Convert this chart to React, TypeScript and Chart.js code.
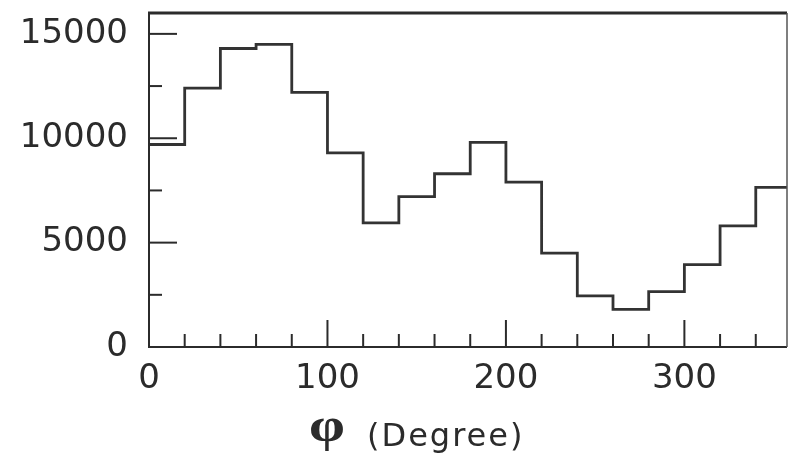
import { useEffect, useRef } from 'react';
import { Chart, registerables } from 'chart.js';

Chart.register(...registerables);

// Histogram bin edges (degrees) and counts per bin
const binEdges = [0, 20, 40, 60, 80, 100, 120, 140, 160, 180, 200, 220, 240, 260, 280, 300, 320, 340, 360];
const counts = [9700, 12400, 14300, 14500, 12200, 9300, 5950, 7200, 8300, 9800, 7900, 4500, 2450, 1800, 2650, 3950, 5800, 7650];

const xTickValues = [0, 100, 200, 300];
const yTickValues = [0, 5000, 10000, 15000];
const xMinorTicks = [20, 40, 60, 80, 120, 140, 160, 180, 220, 240, 260, 280, 320, 340];
const yMinorTicks = [2500, 7500, 12500];

const xTitleSymbol = 'φ';
const xTitleUnit = '(Degree)';

const INK = '#2b2b2b';

const framePlugin = {
  id: 'frameTicks',
  afterDatasetsDraw(chart: any) {
    const { ctx, chartArea: a, scales } = chart;
    const xs = scales.x;
    const ys = scales.y;
    ctx.save();
    ctx.strokeStyle = INK;
    ctx.lineCap = 'butt';
    // frame
    ctx.lineWidth = 3;
    ctx.beginPath();
    ctx.moveTo(a.left - 1, a.top);
    ctx.lineTo(a.right, a.top);
    ctx.stroke();
    ctx.lineWidth = 2;
    ctx.beginPath();
    ctx.moveTo(a.left, a.top);
    ctx.lineTo(a.left, a.bottom);
    ctx.lineTo(a.right, a.bottom);
    ctx.stroke();
    ctx.strokeStyle = '#555';
    ctx.lineWidth = 1.5;
    ctx.beginPath();
    ctx.moveTo(a.right, a.top);
    ctx.lineTo(a.right, a.bottom);
    ctx.stroke();
    // inside ticks
    ctx.strokeStyle = INK;
    ctx.lineWidth = 2;
    const drawY = (vals: number[], len: number) => {
      vals.forEach((v) => {
        const y = ys.getPixelForValue(v);
        ctx.beginPath();
        ctx.moveTo(a.left, y);
        ctx.lineTo(a.left + len, y);
        ctx.stroke();
      });
    };
    const drawX = (vals: number[], len: number) => {
      vals.forEach((v) => {
        const x = xs.getPixelForValue(v);
        ctx.beginPath();
        ctx.moveTo(x, a.bottom);
        ctx.lineTo(x, a.bottom - len);
        ctx.stroke();
      });
    };
    drawY(yTickValues.filter((v) => v > 0), 28);
    drawY(yMinorTicks, 13);
    drawX(xTickValues.filter((v) => v > 0), 27);
    drawX(xMinorTicks, 13);
    // axis title
    ctx.fillStyle = INK;
    ctx.textBaseline = 'alphabetic';
    ctx.textAlign = 'center';
    ctx.save();
    ctx.translate(327, 441);
    ctx.scale(1.2, 1);
    ctx.font = 'bold 48px "Liberation Serif"';
    ctx.fillText(xTitleSymbol, 0, 0);
    ctx.restore();
    ctx.textAlign = 'left';
    ctx.font = '32px "DejaVu Sans"';
    try {
      (ctx as any).letterSpacing = '2px';
    } catch (e) {}
    ctx.fillText(xTitleUnit, 367, 446);
    try {
      (ctx as any).letterSpacing = '0px';
    } catch (e) {}
    ctx.restore();
  },
};

export default function App() {
  const ref = useRef<HTMLCanvasElement | null>(null);

  useEffect(() => {
    if (!ref.current) return;
    const points = binEdges.map((x, i) => ({ x, y: counts[Math.min(i, counts.length - 1)] }));
    const chart = new Chart(ref.current, {
      type: 'line',
      data: {
        datasets: [
          {
            data: points,
            stepped: 'before',
            borderColor: '#333',
            borderWidth: 2.8,
            pointRadius: 0,
            fill: false,
          },
        ],
      },
      options: {
        responsive: false,
        animation: false,
        devicePixelRatio: 1,
        layout: { padding: { left: 0, top: 13, right: 1, bottom: 0 } },
        plugins: { legend: { display: false }, tooltip: { enabled: false } },
        scales: {
          x: {
            type: 'linear',
            min: 0,
            max: 357.5,
            grid: { display: false, drawTicks: false },
            border: { display: false },
            afterBuildTicks: (s: any) => {
              s.ticks = xTickValues.map((v) => ({ value: v }));
            },
            afterFit: (s: any) => {
              s.height = 112;
              s.paddingLeft = 0;
              s.paddingRight = 0;
            },
            ticks: {
              color: INK,
              padding: 12,
              maxRotation: 0,
              font: { family: '"DejaVu Sans"', size: 34 },
              callback: (v: any) => String(v),
            },
          },
          y: {
            type: 'linear',
            min: 0,
            max: 16000,
            grid: { display: false, drawTicks: false },
            border: { display: false },
            afterBuildTicks: (s: any) => {
              s.ticks = yTickValues.map((v) => ({ value: v }));
            },
            afterFit: (s: any) => {
              s.width = 149;
              s.paddingTop = 0;
              s.paddingBottom = 0;
            },
            ticks: {
              color: INK,
              padding: 21,
              font: { family: '"DejaVu Sans"', size: 34 },
              callback: (v: any) => String(v),
            },
          },
        },
      },
      plugins: [framePlugin],
    });
    return () => chart.destroy();
  }, []);

  return (
    <div style={{ position: 'absolute', left: 0, top: 0, width: 788, height: 459, background: '#fff' }}>
      <canvas ref={ref} width={788} height={459} />
    </div>
  );
}
